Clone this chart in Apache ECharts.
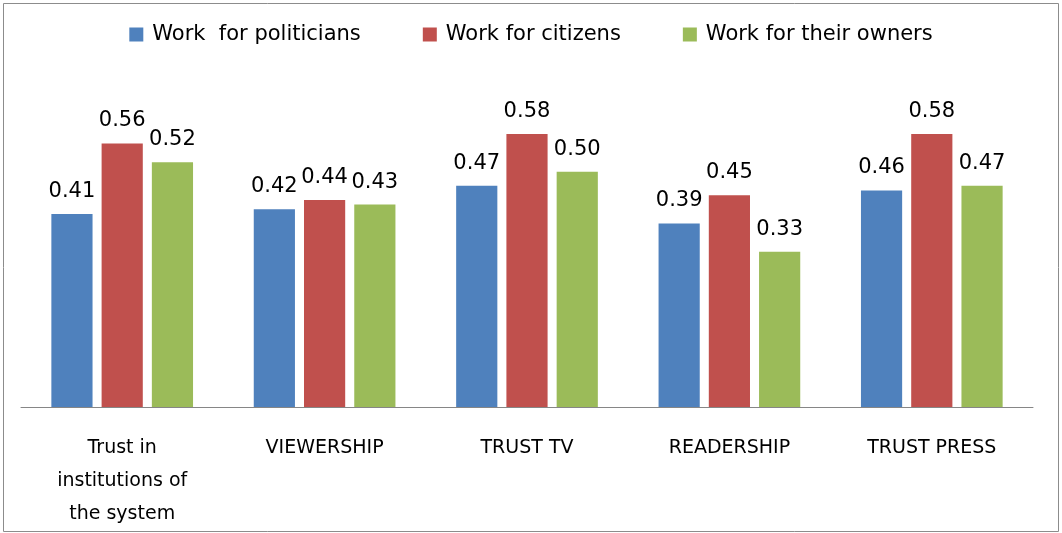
<!DOCTYPE html>
<html>
<head>
<meta charset="utf-8">
<script src="https://cdn.jsdelivr.net/npm/echarts@6/dist/echarts.min.js"></script>
<style>
  html, body { margin: 0; padding: 0; background: #fff; }
  #chart { width: 1062px; height: 533px; }
</style>
</head>
<body>
<div id="chart"></div>
<script>
const categories = ['Trust in\ninstitutions of\nthe system', 'VIEWERSHIP', 'TRUST TV', 'READERSHIP', 'TRUST PRESS'];
const seriesNames = ['Work  for politicians', 'Work for citizens', 'Work for their owners'];
const politicians = [0.41, 0.42, 0.47, 0.39, 0.46];
const citizens = [0.56, 0.44, 0.58, 0.45, 0.58];
const owners = [0.52, 0.43, 0.50, 0.33, 0.47];
const colors = ['#4F81BD', '#C0504D', '#9BBB59'];

const FONT = 'DejaVu Sans';
const chart = echarts.init(document.getElementById('chart'));

function barSeries(name, data, color) {
  return {
    name: name,
    type: 'bar',
    data: data,
    itemStyle: { color: color },
    barGap: '22%',
    barCategoryGap: '30%',
    label: {
      show: true,
      position: 'top',
      distance: 12,
      color: '#000',
      fontFamily: FONT,
      fontSize: 21,
      formatter: p => p.value.toFixed(2)
    }
  };
}

chart.setOption({
  animation: false,
  backgroundColor: '#fff',
  graphic: [{
    type: 'rect',
    shape: { x: 3.5, y: 3.5, width: 1055, height: 528 },
    style: { fill: 'none', stroke: '#8c8c8c', lineWidth: 1 },
    silent: true
  }],
  legend: {
    top: 19,
    left: 'center',
    itemWidth: 14,
    itemHeight: 14,
    itemGap: 62,
    icon: 'rect',
    textStyle: { fontFamily: FONT, fontSize: 21, color: '#000', padding: [0, 0, 0, 4] },
    data: seriesNames
  },
  grid: { left: 21, right: 29, top: 77.5, bottom: 126 },
  xAxis: {
    type: 'category',
    data: categories,
    axisLine: { lineStyle: { color: '#868686', width: 1 } },
    axisTick: { show: false },
    axisLabel: {
      color: '#000',
      fontFamily: FONT,
      fontSize: 19,
      lineHeight: 33,
      margin: 25,
      interval: 0
    }
  },
  yAxis: {
    type: 'value',
    min: 0,
    max: 0.7,
    show: false,
    splitLine: { show: false }
  },
  series: [
    barSeries(seriesNames[0], politicians, colors[0]),
    barSeries(seriesNames[1], citizens, colors[1]),
    barSeries(seriesNames[2], owners, colors[2])
  ]
});
</script>
</body>
</html>
